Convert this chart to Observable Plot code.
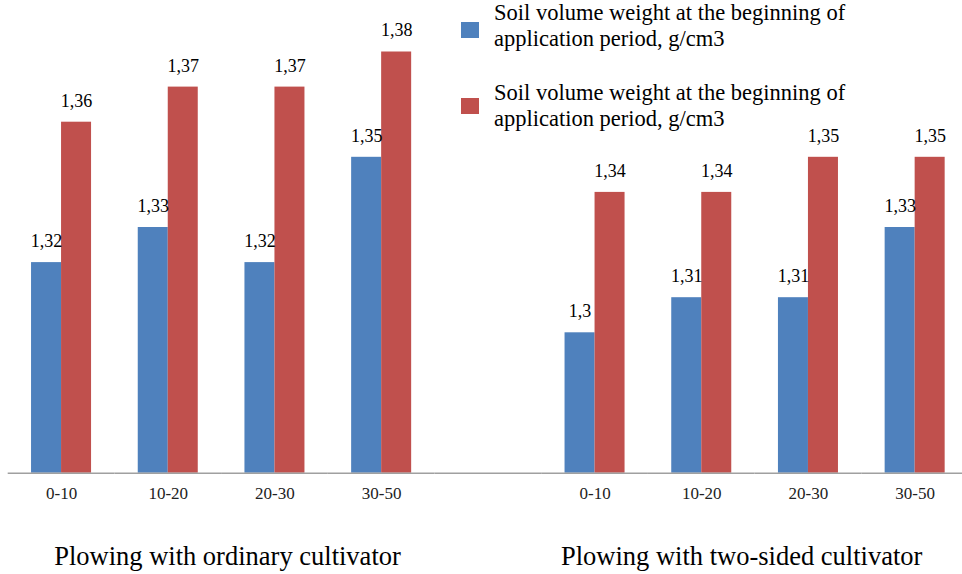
<!DOCTYPE html>
<html>
<head>
<meta charset="utf-8">
<script src="https://cdn.jsdelivr.net/npm/d3@7"></script>
<script src="https://cdn.jsdelivr.net/npm/@observablehq/plot@0.6"></script>
<style>
  body { margin: 0; background: #fff; }
  #wrap { position: relative; width: 962px; height: 574px; overflow: hidden;
          font-family: "Liberation Serif", "Times New Roman", serif; color: #000; }
  #wrap svg { position: absolute; left: 0; top: 0; }
  .lg-sw { position: absolute; width: 18px; height: 16px; }
  .lg-tx { position: absolute; font-size: 22.5px; line-height: 26px; white-space: nowrap; }
  .title { position: absolute; width: 440px; text-align: center; font-size: 26.5px; line-height: 30px; }
</style>
</head>
<body>
<div id="wrap"></div>
<script>
// ---- data ----
const categories = ["0-10", "10-20", "20-30", "30-50"];
const groups = ["Plowing with ordinary cultivator", "Plowing with two-sided cultivator"];
const seriesKeys = ["begin", "end"];
const seriesNames = [
  "Soil volume weight at the beginning of application period, g/cm3",
  "Soil volume weight at the beginning of application period, g/cm3"
];
const seriesColors = ["#4F81BD", "#C0504D"];
const ordinaryBlue = [1.32, 1.33, 1.32, 1.35];
const ordinaryRed = [1.36, 1.37, 1.37, 1.38];
const twoSidedBlue = [1.30, 1.31, 1.31, 1.33];
const twoSidedRed = [1.34, 1.34, 1.35, 1.35];
const yMin = 1.26;
const yMax = 1.39;

// ---- table ----
const groupValues = [[ordinaryBlue, ordinaryRed], [twoSidedBlue, twoSidedRed]];
const slotKey = (g, c) => g + "|" + c;
const slots = [
  ...categories.map(c => slotKey(0, c)),
  "gap",
  ...categories.map(c => slotKey(1, c))
];
const data = [];
groupValues.forEach((pair, g) => {
  categories.forEach((c, i) => {
    seriesKeys.forEach((s, k) => {
      const v = pair[k][i];
      data.push({slot: slotKey(g, c), series: s, value: v, label: String(v).replace(".", ",")});
    });
  });
});
// keep the empty separator slot present
data.push({slot: "gap", series: seriesKeys[0], value: null, label: ""});
const bars = data.filter(d => d.value != null);

const chart = Plot.plot({
  width: 962,
  height: 574,
  marginTop: 16.4,
  marginBottom: 101.3,
  marginLeft: 7.7,
  marginRight: -6,
  style: {fontFamily: "Liberation Serif, Times New Roman, serif", fontSize: "17px", color: "#222", background: "transparent"},
  fx: {domain: slots, padding: 0, round: false, axis: "bottom", label: null, tickSize: 0, tickPadding: 14,
       tickFormat: d => d === "gap" ? "" : d.split("|")[1]},
  x: {domain: seriesKeys, paddingInner: 0, paddingOuter: 0.778, round: false, axis: null},
  y: {domain: [yMin, yMax], axis: null},
  color: {domain: seriesKeys, range: seriesColors},
  marks: [
    Plot.barY(bars, {fx: "slot", x: "series", y1: yMin, y2: "value", fill: "series", inset: 0}),
    Plot.text(bars, {fx: "slot", x: "series", y: "value", text: "label",
      lineAnchor: "bottom", dy: -15.6, fontSize: 18, fill: "#000"}),
    Plot.ruleY(data.filter(d => d.series === seriesKeys[0]), {fx: "slot", y: () => yMin, stroke: "#a0a0a0", strokeWidth: 1.5})
  ]
});

const wrap = document.getElementById("wrap");
wrap.appendChild(chart);

// legend (text wrapped onto two lines as in the reference)
const legendTops = [0, 80];
const swatchTops = [21.5, 98];
seriesNames.forEach((name, i) => {
  const sw = document.createElement("div");
  sw.className = "lg-sw";
  sw.style.left = "461px";
  sw.style.top = swatchTops[i] + "px";
  sw.style.background = seriesColors[i];
  wrap.appendChild(sw);
  const cut = name.indexOf(" application");
  [name.slice(0, cut), name.slice(cut + 1)].forEach((line, j) => {
    const tx = document.createElement("div");
    tx.className = "lg-tx";
    tx.style.left = "494px";
    tx.style.top = (legendTops[i] + j * 26) + "px";
    tx.textContent = line;
    wrap.appendChild(tx);
  });
});

// group titles
const titleCenters = [227.5, 741.7];
groups.forEach((g, i) => {
  const t = document.createElement("div");
  t.className = "title";
  t.style.left = (titleCenters[i] - 220) + "px";
  t.style.top = "541px";
  t.textContent = g;
  wrap.appendChild(t);
});
</script>
</body>
</html>
